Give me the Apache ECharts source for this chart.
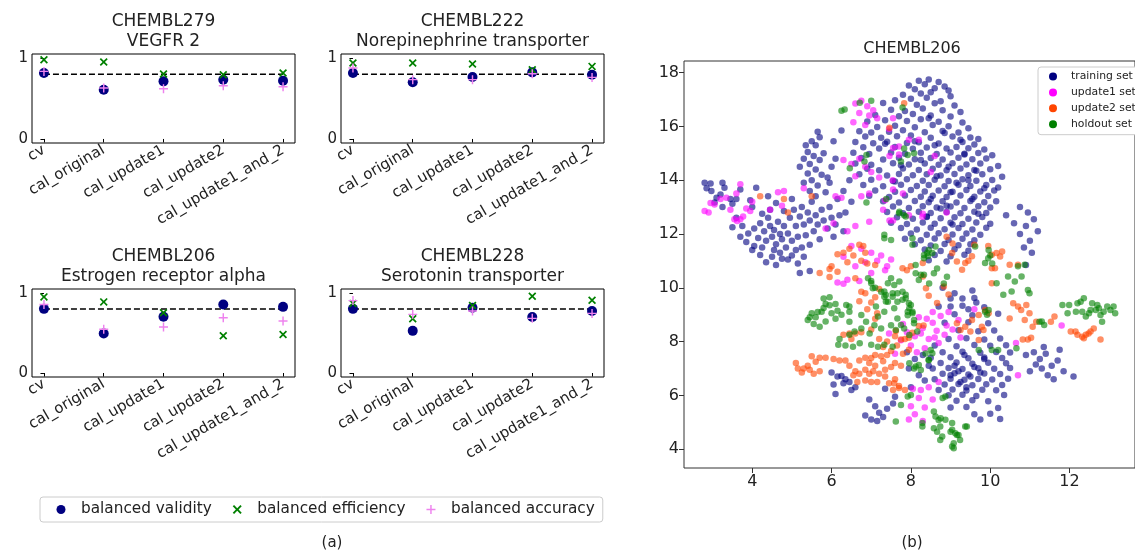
<!DOCTYPE html>
<html>
<head>
<meta charset="UTF-8">
<script src="https://cdn.jsdelivr.net/npm/echarts@6/dist/echarts.min.js"></script>
<style>
  html, body { margin: 0; padding: 0; background: #fff; }
  #chart { width: 1135px; height: 552px; }
</style>
</head>
<body>
<div id="chart"></div>
<script>
// ---- panel (a): calibration metrics per target ----
const CATS = ['cv', 'cal_original', 'cal_update1', 'cal_update2', 'cal_update1_and_2'];
const PANEL_IDS = ['CHEMBL279', 'CHEMBL222', 'CHEMBL206', 'CHEMBL228'];
const PANEL_TARGETS = ['VEGFR 2', 'Norepinephrine transporter', 'Estrogen receptor alpha', 'Serotonin transporter'];
const THRESHOLD = 0.8;

const VALIDITY = [
  [0.815, 0.609, 0.712, 0.732, 0.720],
  [0.815, 0.700, 0.765, 0.823, 0.794],
  [0.802, 0.494, 0.704, 0.856, 0.827],
  [0.802, 0.527, 0.815, 0.700, 0.774]
];
const EFFICIENCY = [
  [0.979, 0.951, 0.802, 0.794, 0.815],
  [0.938, 0.938, 0.926, 0.856, 0.897],
  [0.951, 0.889, 0.753, 0.465, 0.481],
  [0.868, 0.679, 0.844, 0.959, 0.910]
];
const ACCURACY = [
  [0.835, 0.630, 0.621, 0.658, 0.646],
  [0.877, 0.733, 0.733, 0.807, 0.761],
  [0.856, 0.547, 0.576, 0.691, 0.650],
  [0.905, 0.733, 0.774, 0.683, 0.745]
];

// ---- panel (b): 2D embedding of CHEMBL206, flat x,y lists ----
const TRAINING = [
  2.8,13.9, 2.95,13.88, 2.85,13.7, 2.97,13.6, 3.25,13.9, 3.3,13.72, 3.1,13.35, 3.2,13.47, 3.45,13.3, 3.5,13.12, 3.7,13.65, 3.25,13.0, 3.05,13.17,
  3.95,13.25, 4.0,13.0, 4.1,13.72, 4.4,13.4, 3.6,12.6, 3.75,12.3, 3.9,12.02, 3.85,11.7, 4.05,12.2, 4.15,11.85, 4.2,12.4, 4.3,12.1, 4.35,11.75, 4.4,12.6,
  4.45,12.3, 4.5,11.9, 4.55,12.15, 4.6,11.62, 4.65,12.45, 4.7,12.0, 4.75,11.8, 4.8,12.3, 4.85,11.5, 4.9,12.02, 4.95,12.6, 5.0,11.75, 5.05,12.9, 5.1,12.3,
  5.15,11.9, 5.2,12.65, 5.25,13.0, 5.3,12.35, 5.35,11.95, 5.4,12.8, 5.45,12.5, 5.5,13.2, 5.55,12.1, 5.6,12.7, 5.65,12.35, 5.7,11.8, 5.75,12.9, 5.8,12.5,
  5.9,12.2, 5.95,13.0, 6.0,12.6, 6.05,11.9, 6.1,12.35, 6.2,12.7, 6.3,12.1, 4.0,11.4, 4.2,11.22, 4.5,11.15, 4.7,11.3, 4.9,11.05, 5.1,11.4, 5.3,11.15,
  4.35,10.95, 4.6,10.85, 5.2,10.55, 3.7,11.9, 4.05,11.55, 4.25,11.5, 4.55,11.4, 4.75,11.08, 5.0,11.2, 5.45,11.6, 5.25,11.5, 3.6,13.3, 4.6,13.15, 4.8,12.85,
  5.0,13.3, 4.25,12.75, 4.45,12.9, 3.5,12.25, 5.15,10.9, 5.45,10.62,
  5.65,15.8, 5.7,15.6, 5.5,15.45, 5.35,15.3, 5.6,15.3, 5.4,15.05, 5.55,14.9, 5.3,14.8, 5.45,14.6, 5.7,14.75, 5.2,14.5, 5.6,14.4, 5.4,14.25, 5.75,14.2,
  5.5,14.0, 5.3,13.9, 5.65,13.8, 5.45,13.6, 5.85,13.55, 5.6,13.4, 5.95,13.9, 5.8,15.0, 6.0,14.5, 5.9,14.1, 6.15,13.3, 6.3,13.6, 6.45,14.0, 6.5,13.2,
  6.1,14.8, 6.35,12.8, 6.25,15.85, 6.05,15.45,
  8.2,17.7, 8.45,17.74, 8.7,17.65, 7.95,17.52, 8.35,17.57, 8.85,17.48, 8.1,17.38, 8.6,17.42, 8.95,17.33, 7.8,17.18, 8.25,17.22, 8.5,17.27, 9.0,17.12,
  7.6,16.97, 8.0,17.03, 8.4,17.06, 8.75,16.93, 7.3,16.87, 8.15,16.8, 8.6,16.86, 9.1,16.78, 7.5,16.62, 7.85,16.57, 8.3,16.66, 8.8,16.6, 9.25,16.53,
  7.1,16.42, 7.7,16.38, 8.05,16.46, 8.5,16.4, 9.0,16.37, 6.9,16.18, 7.35,16.23, 7.9,16.2, 8.25,16.26, 8.7,16.17, 9.3,16.14, 7.15,15.98, 7.6,16.02,
  8.1,15.97, 8.55,16.05, 8.95,16.0, 9.45,15.93, 6.7,15.82, 7.0,15.77, 7.45,15.8, 7.8,15.86, 8.35,15.78, 8.8,15.83, 9.2,15.77, 6.85,15.62, 7.25,15.58,
  7.65,15.63, 8.0,15.66, 8.5,15.58, 9.05,15.62, 9.5,15.59, 9.7,15.53, 6.6,15.42, 7.05,15.37, 7.4,15.43, 7.9,15.38, 8.2,15.41, 8.7,15.36, 9.3,15.42,
  9.6,15.33, 6.8,15.22, 7.2,15.18, 7.6,15.23, 8.05,15.17, 8.4,15.21, 8.9,15.18, 9.15,15.23, 9.45,15.19, 9.85,15.14, 6.55,15.02, 6.95,14.97, 7.5,15.03,
  7.85,14.98, 8.25,15.02, 8.65,14.97, 9.0,15.03, 9.35,14.98, 9.7,15.01, 10.05,14.93, 6.75,14.82, 7.3,14.77, 7.7,14.83, 8.1,14.78, 8.5,14.82, 8.8,14.77,
  9.2,14.83, 9.55,14.78, 9.9,14.81, 6.6,14.62, 7.0,14.57, 7.55,14.63, 7.95,14.58, 8.35,14.62, 8.7,14.57, 9.05,14.63, 9.4,14.58, 9.75,14.62, 10.2,14.53,
  6.9,14.42, 7.2,14.37, 7.8,14.43, 8.2,14.38, 8.55,14.42, 8.9,14.37, 9.25,14.43, 9.6,14.38, 10.0,14.41, 6.7,14.22, 7.4,14.17, 7.7,14.23, 8.05,14.18,
  8.4,14.22, 8.75,14.17, 9.1,14.23, 9.45,14.18, 9.8,14.22, 10.3,14.13, 7.0,14.02, 7.55,13.97, 7.9,14.03, 8.3,13.98, 8.6,14.02, 8.95,13.97, 9.3,14.03,
  9.65,13.98, 10.05,14.01, 6.8,13.82, 7.3,13.77, 7.75,13.83, 8.15,13.78, 8.45,13.82, 8.85,13.77, 9.2,13.83, 9.5,13.78, 9.9,13.82, 10.2,13.73,
  7.1,13.62, 7.6,13.57, 8.0,13.63, 8.35,13.58, 8.7,13.62, 9.05,13.57, 9.4,13.63, 9.75,13.58, 10.1,13.62, 6.95,13.42, 7.45,13.37, 7.85,13.43, 8.25,13.38,
  8.55,13.42, 8.9,13.37, 9.25,13.43, 9.6,13.38, 9.95,13.41, 7.3,13.22, 7.7,13.17, 8.1,13.23, 8.45,13.18, 8.8,13.22, 9.15,13.17, 9.5,13.23, 9.85,13.18,
  10.15,13.22, 7.55,13.02, 7.95,12.97, 8.3,13.03, 8.65,12.98, 9.0,13.02, 9.35,12.97, 9.7,13.03, 10.0,12.98, 7.4,12.82, 7.8,12.77, 8.2,12.83, 8.5,12.78,
  8.9,12.82, 9.25,12.77, 9.6,12.83, 9.9,12.78, 7.65,12.62, 8.05,12.57, 8.4,12.63, 8.75,12.58, 9.1,12.62, 9.45,12.57, 9.8,12.63, 7.5,12.42, 7.9,12.37,
  8.3,12.43, 8.6,12.38, 9.0,12.42, 9.3,12.37, 9.65,12.43, 10.0,12.38, 7.75,12.22, 8.15,12.17, 8.5,12.23, 8.85,12.18, 9.2,12.22, 9.55,12.17, 9.9,12.23,
  8.0,12.02, 8.4,11.97, 8.7,12.03, 9.05,11.98, 9.4,12.02, 9.75,11.97, 7.85,11.82, 8.25,11.77, 8.6,11.83, 8.95,11.78, 9.3,11.82, 9.6,11.77, 8.1,11.62,
  8.5,11.57, 8.85,11.63, 9.2,11.58, 9.5,11.62, 8.35,11.42, 8.75,11.37, 9.1,11.43, 9.45,11.38, 8.6,11.22, 9.0,11.17, 9.35,11.23, 8.45,11.02, 8.9,10.98,
  8.6,15.3, 8.95,14.5, 9.15,13.9, 8.5,13.3, 9.35,14.95, 9.55,13.3, 8.75,12.95, 9.05,12.35, 8.25,14.75, 8.85,15.75, 9.65,14.35, 8.65,14.15, 9.0,13.55,
  9.7,12.75, 8.4,12.65, 9.25,15.5, 8.1,15.45, 9.45,14.0, 9.85,13.7, 8.9,13.05, 8.45,16.3, 7.75,14.55, 7.6,13.95, 7.35,15.35,
  10.75,13.0, 10.95,12.8, 11.1,12.55, 10.6,12.4, 10.9,12.3, 11.2,12.1, 10.75,12.0, 11.0,11.75, 10.85,11.5, 11.05,11.3, 10.9,10.85, 10.4,12.7,
  9.0,9.6, 9.6,9.62, 8.7,9.3, 9.3,9.33, 9.85,9.28, 9.1,9.02, 9.55,8.98, 10.2,9.03, 8.85,8.7, 9.45,8.72, 9.95,8.68, 9.2,8.42, 9.7,8.38, 10.1,8.41,
  8.95,8.1, 9.4,8.12, 9.85,8.08, 10.25,8.11, 8.6,7.85, 9.15,7.83, 9.6,7.87, 10.0,7.84, 10.4,7.86, 8.8,7.6, 9.3,7.62, 9.75,7.58, 10.15,7.61, 10.5,7.59,
  8.5,7.4, 9.0,7.42, 9.45,7.38, 9.85,7.41, 10.3,7.39, 8.75,7.2, 9.15,7.22, 9.55,7.18, 9.95,7.21, 10.4,7.19, 8.55,7.0, 8.95,7.02, 9.3,6.98, 9.7,7.01,
  10.1,6.99, 10.5,7.02, 8.8,6.8, 9.1,6.82, 9.45,6.78, 9.85,6.81, 10.25,6.79, 8.6,6.6, 9.0,6.62, 9.35,6.58, 9.7,6.61, 10.05,6.59, 10.45,6.62, 8.85,6.4,
  9.2,6.42, 9.55,6.38, 9.9,6.41, 10.3,6.39, 8.7,6.2, 9.05,6.22, 9.4,6.18, 9.8,6.21, 10.15,6.19, 8.95,6.0, 9.3,6.02, 9.65,5.98, 10.35,6.01, 9.15,5.8,
  9.55,5.82, 9.95,5.78, 9.0,5.55, 9.4,5.57, 10.2,5.53, 9.6,5.3, 10.0,5.32, 9.75,5.1, 10.25,5.12,
  9.2,6.9, 9.5,6.7, 9.25,6.5, 9.6,7.05, 9.1,7.1, 9.4,6.3, 9.75,6.85, 9.0,6.75, 9.85,7.35, 9.35,7.5,
  10.9,7.5, 11.1,7.6, 11.25,7.35, 11.4,7.55, 11.55,7.1, 11.3,7.0, 11.7,7.3, 11.85,6.9, 12.1,6.7, 11.45,6.75, 11.15,7.15, 11.6,6.6, 11.0,6.9, 11.75,7.7, 11.35,7.8,
  6.0,6.85, 6.15,6.7, 6.25,6.72, 6.35,6.6, 6.05,6.4, 6.45,6.5, 6.3,6.45, 6.6,6.3, 6.5,6.2, 6.1,6.05,
  6.95,5.85, 7.1,5.6, 7.2,5.35, 6.85,5.25, 7.0,5.1, 7.15,5.05, 7.3,5.2, 7.4,5.5, 7.55,5.7, 7.6,5.95, 7.35,6.25,
  7.9,7.6, 8.1,7.35, 8.3,7.5, 7.95,7.0, 8.2,6.75, 8.45,7.1, 8.0,6.3, 8.35,6.55,
  8.8,10.0, 9.1,9.8, 9.3,9.6, 9.55,9.9, 9.0,9.3, 9.45,9.2, 9.65,9.45
];
const UPDATE1 = [
  2.8,12.85, 2.9,12.8, 2.95,13.15, 3.05,13.1, 3.2,13.3, 3.35,13.35, 3.45,12.9, 3.55,12.55, 3.62,12.48, 3.7,12.55, 3.77,12.65, 3.85,12.95, 3.95,12.85,
  3.7,13.85, 3.6,13.5, 4.0,13.2, 4.65,13.55, 4.45,12.9,
  6.6,16.85, 6.75,16.95, 6.9,16.75, 7.05,16.6, 6.7,16.5, 6.95,16.4, 6.55,16.15, 6.85,16.05, 7.15,16.3, 7.45,15.9,
  7.55,16.3, 7.95,15.5, 7.7,15.25, 7.46,14.9, 8.2,15.5, 8.6,14.9, 7.54,14.0, 8.5,14.3, 8.29,12.64, 8.9,12.8, 7.46,12.5, 7.8,13.5,
  6.3,14.75, 6.5,14.6, 6.7,14.8, 6.85,14.5, 7.0,14.3, 6.6,14.15, 7.2,14.1, 7.55,15.2, 7.7,14.95,
  4.8,13.6, 4.75,13.05, 5.3,13.7, 6.1,13.4, 6.25,13.35, 6.75,13.4, 6.95,13.5, 7.55,13.65, 7.35,13.25,
  5.85,12.2, 6.05,12.4, 6.4,12.1, 6.6,12.3, 6.95,12.45, 6.5,11.55, 6.75,11.45, 7.0,11.3, 6.3,11.15, 6.6,10.8, 6.85,10.95, 7.15,11.0, 6.4,10.3,
  6.7,10.25, 7.0,10.55, 7.35,10.65, 7.25,11.2, 7.5,11.05, 6.15,10.2, 6.3,10.15,
  7.3,12.9, 7.55,12.5, 7.95,12.7, 8.3,12.75,
  8.2,8.9, 8.4,8.85, 8.55,8.7, 8.75,8.95, 8.9,8.6, 8.3,8.5, 8.65,8.4, 8.85,8.25, 9.05,8.45, 8.1,8.2, 8.45,8.1, 8.7,7.95, 7.9,8.35, 7.75,8.05,
  8.0,7.85, 8.35,7.75, 7.6,7.55, 7.8,8.65, 9.2,8.8, 8.55,9.1, 8.95,9.1, 8.15,7.6, 9.25,8.15, 7.45,8.3, 8.6,8.15, 8.25,8.3,
  8.05,6.25, 8.25,6.2, 8.45,6.3, 8.2,5.9, 8.0,5.6, 8.35,5.55, 8.55,5.85, 8.1,5.3, 7.95,5.1, 8.3,5.05, 8.7,6.5,
  10.65,7.95, 10.7,6.75, 11.8,8.6, 7.4,10.8, 9.6,9.2
];
const UPDATE2 = [
  4.2,13.4, 4.8,13.3, 4.9,12.8, 5.5,13.4,
  6.15,11.25, 6.3,11.3, 6.0,10.8, 5.95,10.7, 5.7,10.55, 5.95,10.4, 6.15,10.6, 6.4,10.95, 6.55,11.2, 6.75,11.0, 6.9,10.9, 6.85,11.3, 6.6,10.35,
  7.1,10.85, 6.45,11.45, 6.7,11.6, 6.8,11.55,
  6.75,9.85, 6.85,9.8, 7.0,9.45, 6.7,9.5, 6.9,9.2, 7.15,9.05, 7.1,8.85, 7.0,8.45, 6.75,8.35, 6.6,8.3, 6.45,8.3, 6.3,8.25, 6.5,8.1, 7.1,9.65, 7.2,9.95,
  5.1,7.2, 5.15,7.0, 5.3,7.0, 5.4,7.1, 5.5,7.45, 5.6,7.25, 5.7,7.4, 5.85,7.4, 5.55,6.8, 5.7,6.9, 5.45,6.95, 5.25,6.85, 6.05,7.35, 6.2,7.3, 6.35,7.3,
  6.7,7.3, 6.85,7.4, 6.95,7.2, 7.1,7.1, 6.6,6.9, 6.7,6.8, 6.85,6.95, 6.95,6.8, 7.05,6.9, 7.2,6.8, 7.35,6.95, 7.5,7.05, 7.6,7.2, 7.75,7.1, 7.25,7.45,
  7.4,7.5, 7.1,7.5, 6.85,6.55, 7.0,6.5, 7.15,6.5, 7.35,6.7, 7.55,6.2, 7.7,6.35, 7.85,6.2, 6.65,6.5, 6.55,6.75, 7.45,6.45, 7.6,6.6, 6.45,7.1,
  7.3,7.8, 7.5,7.65, 7.65,7.85, 7.8,7.55, 7.95,7.7, 7.4,8.0, 7.2,8.1, 7.6,8.2, 7.85,8.1, 7.3,7.27, 7.0,7.39, 7.58,6.45, 7.7,6.27,
  9.04,11.29, 9.16,10.98, 9.29,10.67, 9.37,10.92, 9.54,11.17, 9.45,11.0, 10.04,11.23, 10.16,11.29, 10.25,11.16, 10.04,10.73, 10.12,10.73, 10.49,10.86,
  10.7,10.86, 10.04,10.17, 10.58,9.42, 10.7,9.3, 10.78,9.17, 10.91,9.36, 10.99,9.05, 10.87,8.8, 11.07,8.55, 11.16,8.74, 10.82,8.08, 10.95,8.08,
  11.03,8.14, 10.49,8.86, 11.62,8.93, 11.53,8.74, 12.03,8.37, 12.15,8.37, 12.2,8.25, 12.32,8.18, 12.41,8.25, 12.48,8.3, 12.53,8.37, 12.36,8.12,
  12.78,8.08, 12.61,8.49,
  9.54,8.8, 9.71,8.99, 9.79,8.55, 9.83,8.43, 9.5,8.37, 9.37,8.55, 9.25,8.43, 9.16,8.68, 9.71,8.06, 9.96,9.05, 9.87,9.17,
  7.79,10.73, 7.9,10.65, 8.3,10.42, 8.38,9.98, 8.45,9.7, 7.95,8.14, 8.04,8.33, 8.2,8.58, 8.32,8.6, 7.75,8.08, 7.62,8.39, 8.3,10.92, 8.0,10.8,
  7.83,16.86, 7.46,15.95, 8.9,11.9, 9.05,11.65, 9.6,11.6, 9.95,11.55, 10.3,11.35, 8.66,9.43, 8.83,10.05, 8.95,9.75
];
const HOLDOUT = [
  5.8,9.6, 5.95,9.65, 5.85,9.4, 5.95,9.35, 6.1,9.4, 6.15,9.15, 6.0,9.05, 5.8,9.25, 5.65,9.1, 5.5,9.05, 5.45,8.9, 5.4,8.8, 5.55,8.65, 5.7,8.55,
  5.85,8.75, 6.1,8.85, 6.25,9.0, 6.45,9.3, 6.45,8.25, 6.2,8.1, 6.35,7.85, 5.6,8.9, 6.37,9.36, 6.45,9.11, 5.75,9.11,
  6.92,10.35, 7.0,10.25, 7.1,10.0, 7.25,9.85, 7.37,9.73, 7.5,10.35, 7.58,10.1, 7.71,10.23, 7.42,9.48, 7.54,9.67, 7.66,9.48, 7.79,9.85, 7.87,9.61,
  7.96,9.24, 8.04,9.11, 7.92,8.98, 8.08,8.8, 8.0,9.36, 7.58,9.24, 7.33,9.11, 7.17,8.93, 7.08,8.61, 7.25,8.49, 7.5,8.61, 7.66,8.86, 6.87,8.74,
  6.75,8.49, 6.96,8.3, 6.58,8.37, 6.45,8.74, 6.75,8.99, 7.83,8.49, 8.16,8.37, 7.96,8.24,
  7.0,10.17, 7.04,9.98, 7.33,9.86, 7.37,9.49, 7.12,9.3,
  7.33,11.84, 7.71,12.83, 7.83,12.7, 8.04,11.84, 8.33,11.22, 8.43,11.18, 8.58,10.54, 8.66,10.72, 8.33,10.48, 8.12,10.85, 8.2,10.29, 8.46,10.16,
  8.83,10.16, 8.91,10.41,
  6.25,16.58, 6.33,16.63, 6.71,16.88, 7.0,16.95, 7.79,16.7, 6.88,14.94, 6.83,14.69, 6.46,14.44, 7.83,15.18, 7.92,14.94, 7.75,14.69, 7.38,13.3, 6.88,13.17,
  8.08,15.0, 7.7,12.77, 7.87,12.65, 7.5,11.78, 7.33,11.97, 8.04,11.6, 8.45,11.4, 8.62,11.53, 8.33,11.1, 9.62,11.53, 9.96,11.4,
  7.42,10.17, 7.54,9.8, 7.33,9.67, 7.66,9.8, 7.87,9.74, 7.79,9.55, 7.95,9.42, 7.92,9.11, 8.04,9.05, 8.12,10.54, 8.25,10.48, 8.41,11.29, 8.54,11.29,
  7.62,8.43, 7.75,8.62, 8.08,8.68, 8.12,7.07, 8.2,7.13, 8.5,7.69, 8.45,7.31, 8.37,7.56, 7.92,5.96,
  8.29,4.97, 8.62,5.21, 8.7,5.08, 8.74,4.84, 8.66,4.65, 9.0,4.65, 9.04,4.97, 9.12,4.59, 9.2,4.53, 9.24,4.34, 8.74,4.34, 9.08,4.22, 9.08,4.03,
  9.41,4.84, 8.87,5.96, 8.8,5.9, 8.0,6.01, 7.75,5.64, 7.62,5.03, 8.58,5.4, 8.75,5.15, 8.87,5.09, 8.79,4.47, 9.04,4.72, 9.16,4.53, 9.04,4.1, 9.37,4.84,
  8.58,4.78, 8.29,4.84,
  6.17,7.88, 6.54,7.81, 6.71,7.94, 7.0,7.88, 7.17,7.81, 7.33,7.88, 7.54,7.81, 7.96,7.19, 8.08,7.0, 8.25,6.94, 8.45,7.32, 8.54,7.57,
  9.87,9.11, 9.96,9.17, 9.92,9.0, 9.71,7.69, 10.04,7.69, 10.2,7.69, 10.33,9.74, 10.54,9.86, 10.62,10.23, 10.79,10.42, 10.87,10.86, 10.7,10.8,
  10.45,10.42, 10.16,10.17, 10.0,11.2, 9.95,11.1, 9.87,10.92, 10.05,10.9, 10.66,7.75, 10.99,9.8, 10.95,9.92, 11.24,8.74, 11.36,8.62, 11.3,8.75,
  11.82,9.36, 11.99,9.36, 11.95,9.05, 12.2,9.42, 12.28,9.48, 12.36,9.61, 12.16,9.11, 12.32,9.11, 12.49,9.05, 12.53,9.17, 12.57,9.42, 12.7,9.36,
  12.74,9.24, 12.78,8.99, 12.86,9.11, 12.95,9.3, 13.03,9.17, 13.11,9.3, 13.15,9.05, 12.82,8.74, 12.66,9.17, 12.41,8.93
];
const EMBED_X_TICKS = [4, 6, 8, 10, 12];
const EMBED_Y_TICKS = [4, 6, 8, 10, 12, 14, 16, 18];

const FONT = 'DejaVu Sans';
const X_PATH = 'path://M0,1.5L1.5,0L5,3.5L8.5,0L10,1.5L6.5,5L10,8.5L8.5,10L5,6.5L1.5,10L0,8.5L3.5,5Z';
const PLUS_PATH = 'path://M4.2,0H5.8V4.2H10V5.8H5.8V10H4.2V5.8H0V4.2H4.2Z';

function toPairs(flat) {
  const out = [];
  for (let i = 0; i < flat.length; i += 2) out.push([flat[i], flat[i + 1]]);
  return out;
}

// panel boxes [left, top, width, height]
const boxes = [[32, 54, 263, 89], [341, 54, 263, 89], [32, 289, 263, 88], [341, 289, 263, 88]];

const chart = echarts.init(document.getElementById('chart'));

const grid = [], xAxis = [], yAxis = [], series = [], graphic = [];

boxes.forEach(function (b, p) {
  grid.push({ left: b[0], top: b[1], width: b[2], height: b[3], show: true, borderColor: '#000', borderWidth: 1 });
  const idx = CATS.map(function (c, i) { return i; });
  xAxis.push({
    gridIndex: p, type: 'value', min: -0.2, max: 4.2,
    axisLine: { show: false }, splitLine: { show: false },
    axisTick: { show: true, customValues: idx, length: 3.5, lineStyle: { color: '#000' } },
    axisLabel: { customValues: idx, formatter: function (v) { return CATS[v]; }, rotate: 30, margin: 6,
      fontSize: 15, fontFamily: FONT, color: '#222' }
  });
  yAxis.push({
    gridIndex: p, type: 'value', min: -0.05, max: 1.05,
    axisLine: { show: false }, splitLine: { show: false },
    axisTick: { show: true, customValues: [0, 1], length: 3.5, lineStyle: { color: '#000' } },
    axisLabel: { customValues: [0, 1], margin: 4, fontSize: 15, fontFamily: FONT, color: '#222' }
  });
  series.push({
    type: 'line', xAxisIndex: p, yAxisIndex: p, silent: true, symbol: 'none', z: 1,
    data: [[0, THRESHOLD], [CATS.length - 1, THRESHOLD]],
    lineStyle: { color: '#000', width: 1.6, type: [6, 3] }
  });
  series.push({
    type: 'scatter', name: 'balanced validity', xAxisIndex: p, yAxisIndex: p, z: 2,
    symbol: 'circle', symbolSize: 10, itemStyle: { color: '#000080', opacity: 1 },
    data: VALIDITY[p].map(function (v, i) { return [i, v]; })
  });
  series.push({
    type: 'scatter', name: 'balanced efficiency', xAxisIndex: p, yAxisIndex: p, z: 3,
    symbol: X_PATH, symbolSize: 8, itemStyle: { color: '#008000', opacity: 1 },
    data: EFFICIENCY[p].map(function (v, i) { return [i, v]; })
  });
  series.push({
    type: 'scatter', name: 'balanced accuracy', xAxisIndex: p, yAxisIndex: p, z: 4,
    symbol: PLUS_PATH, symbolSize: 9, itemStyle: { color: '#ee82ee', opacity: 1 },
    data: ACCURACY[p].map(function (v, i) { return [i, v]; })
  });
  const cx = b[0] + b[2] / 2;
  graphic.push({ type: 'text', x: cx, y: b[1] - 32, style: { text: PANEL_IDS[p], align: 'center', verticalAlign: 'middle', fontSize: 17, fontFamily: FONT, fill: '#222' } });
  graphic.push({ type: 'text', x: cx, y: b[1] - 12, style: { text: PANEL_TARGETS[p], align: 'center', verticalAlign: 'middle', fontSize: 17, fontFamily: FONT, fill: '#222' } });
});

// embedding panel
grid.push({ left: 684, top: 61, width: 456, height: 407, show: true, borderColor: '#333', borderWidth: 1 });
xAxis.push({
  gridIndex: 4, type: 'value', min: 2.28, max: 13.65,
  axisLine: { show: false }, splitLine: { show: false },
  axisTick: { show: true, customValues: EMBED_X_TICKS, length: 5, lineStyle: { color: '#333' } },
  axisLabel: { customValues: EMBED_X_TICKS, margin: 6, fontSize: 16, fontFamily: FONT, color: '#222' }
});
yAxis.push({
  gridIndex: 4, type: 'value', min: 3.3, max: 18.43,
  axisLine: { show: false }, splitLine: { show: false },
  axisTick: { show: true, customValues: EMBED_Y_TICKS, length: 5, lineStyle: { color: '#333' } },
  axisLabel: { customValues: EMBED_Y_TICKS, margin: 5, fontSize: 16, fontFamily: FONT, color: '#222' }
});
const embedSets = [
  ['training set', TRAINING, '#000080'],
  ['update1 set', UPDATE1, '#ff00ff'],
  ['update2 set', UPDATE2, '#ff4500'],
  ['holdout set', HOLDOUT, '#008000']
];
embedSets.forEach(function (s, k) {
  series.push({
    type: 'scatter', name: s[0], xAxisIndex: 4, yAxisIndex: 4, z: 2 + k,
    symbol: 'circle', symbolSize: 6.5,
    itemStyle: { color: s[2], opacity: 0.6 },
    data: toPairs(s[1])
  });
});
graphic.push({ type: 'text', x: 912, y: 49, style: { text: 'CHEMBL206', align: 'center', verticalAlign: 'middle', fontSize: 16, fontFamily: FONT, fill: '#222' } });
graphic.push({ type: 'text', x: 332, y: 543, style: { text: '(a)', align: 'center', verticalAlign: 'middle', fontSize: 15, fontFamily: FONT, fill: '#222' } });
graphic.push({ type: 'text', x: 912, y: 543, style: { text: '(b)', align: 'center', verticalAlign: 'middle', fontSize: 15, fontFamily: FONT, fill: '#222' } });

chart.setOption({
  animation: false,
  backgroundColor: '#fff',
  grid: grid,
  xAxis: xAxis,
  yAxis: yAxis,
  legend: [
    {
      left: 40, top: 497, padding: [5, 8, 5, 16.5], itemGap: 21, itemWidth: 30, itemHeight: 9,
      borderColor: '#ccc', borderWidth: 1, borderRadius: 3, backgroundColor: '#fff',
      textStyle: { fontSize: 15.3, fontFamily: FONT, color: '#222' },
      itemStyle: { opacity: 1 },
      data: [
        { name: 'balanced validity', icon: 'circle' },
        { name: 'balanced efficiency', icon: X_PATH },
        { name: 'balanced accuracy', icon: PLUS_PATH }
      ]
    },
    {
      orient: 'vertical', left: 1038, top: 67, padding: [4, 10, 5, 11], itemGap: 4.9, itemWidth: 26, itemHeight: 8,
      borderColor: '#ccc', borderWidth: 1, borderRadius: 3, backgroundColor: '#fff',
      textStyle: { fontSize: 10.8, fontFamily: FONT, color: '#222' },
      itemStyle: { opacity: 1 },
      data: embedSets.map(function (s) { return { name: s[0], icon: 'circle' }; })
    }
  ],
  graphic: graphic,
  series: series
});
</script>
</body>
</html>
